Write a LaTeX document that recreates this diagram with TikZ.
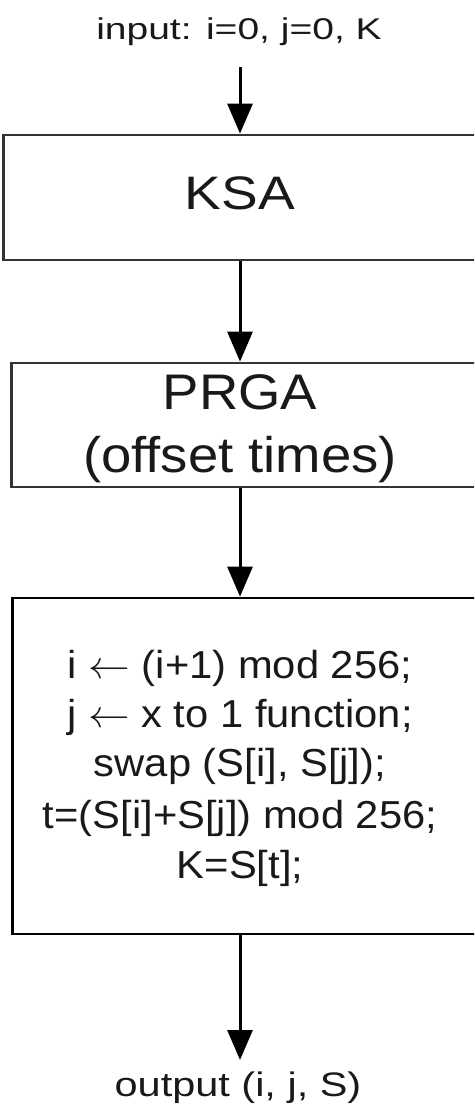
\RequirePackage{fix-cm}
\documentclass[tikz,border=0pt]{standalone}
\usepackage{fontspec}
\setmainfont{Liberation Sans}
\usetikzlibrary{arrows.meta}
\tikzset{
  box/.style={draw=black!80, line width=2.8pt, inner sep=0pt, minimum width=470pt},
  lbl/.style={inner sep=0pt, anchor=base, text=black!90},
  arr/.style={line width=3pt, -{Triangle[length=30pt,width=25pt]}},
}
\newcommand{\fs}[2]{\fontsize{#1}{#2}\selectfont}
\begin{document}
\begin{tikzpicture}[x=1pt,y=-1pt]
\useasboundingbox (0,0) rectangle (474,1113);
\clip (0,0) rectangle (474,1113);
\coordinate (c) at (240,0);
\coordinate (inarr) at (240,67);
\coordinate (outarr) at (240,1060);
% input
\node[lbl, font=\fs{30}{36}, xscale=1.3] (in) at (239,40) {input: i=0, j=0, K};
% KSA
\node[box, minimum width=476.5pt, minimum height=125pt] (ksa) at (241.75,197.5) {};
\node[lbl, font=\fs{47}{56}, xscale=1.17] (ksat) at (240,209) {KSA};
% PRGA
\node[box, minimum width=468.5pt, minimum height=124pt] (prga) at (245.75,425) {};
\node[lbl, font=\fs{50}{63}, xscale=1.09] (prgat1) at (240,409) {PRGA};
\node[lbl, font=\fs{50}{63}, xscale=1.09] (prgat2) at (240,472) {(offset times)};
% step box
\node[box, draw=black, minimum width=467.5pt, minimum height=336pt] (stepbox) at (246.25,766) {};
\node[lbl, font=\fs{39}{50}, xscale=1.07] (l1) at (240,678) {i $\leftarrow$ (i+1) mod 256;};
\node[lbl, font=\fs{39}{50}, xscale=1.07] (l2) at (240,727) {j $\leftarrow$ x to 1 function;};
\node[lbl, font=\fs{39}{50}, xscale=1.07] (l3) at (240,776) {swap (S[i], S[j]);};
\node[lbl, font=\fs{39}{50}, xscale=1.07] (l4) at (240,828) {t=(S[i]+S[j]) mod 256;};
\node[lbl, font=\fs{39}{50}, xscale=1.07] (l5) at (240,878) {K=S[t];};
% output
\node[lbl, font=\fs{34}{40}, xscale=1.22] (out) at (238,1096) {output (i, j, S)};
% connectors
\draw[arr] (inarr) -- (inarr |- ksa.north);
\draw[arr] (ksa.south -| c) -- (prga.north -| c);
\draw[arr] (prga.south -| c) -- (stepbox.north -| c);
\draw[arr] (stepbox.south -| c) -- (outarr);
\end{tikzpicture}
\end{document}
